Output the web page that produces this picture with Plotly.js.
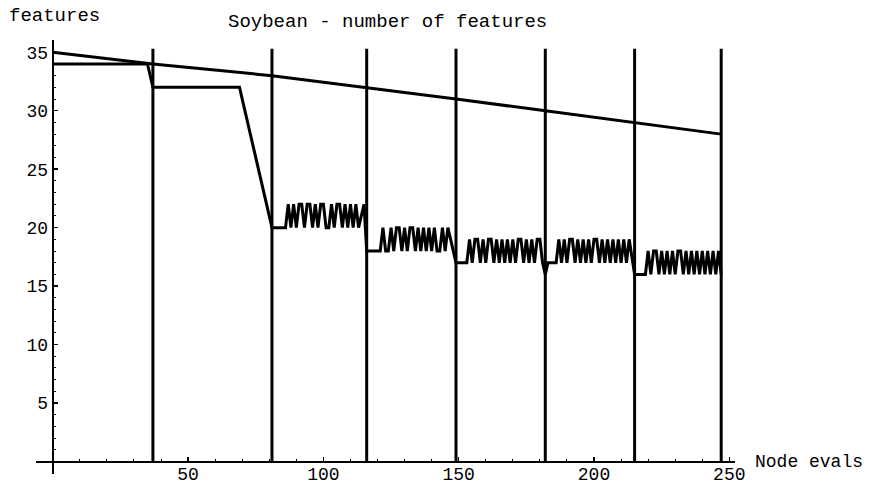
<!DOCTYPE html>
<html>
<head>
<meta charset="utf-8">
<script src="https://cdn.plot.ly/plotly-3.0.1.min.js"></script>
<style>html,body{margin:0;padding:0;background:#fff;}#chart{width:877px;height:488px;}</style>
</head>
<body>
<div id="chart"></div>
<script>
// Node evaluations at which each search level ends (vertical markers)
const levelEvals = [37, 81, 116, 149, 182, 215, 247];
// Features at start and at each level boundary (upper bound line)
const levelStartEval = 0;
const levelStartFeatures = 35;
const levelFeatures = [34, 33, 32, 31, 30, 29, 28];
const markerTop = 35.3;

// Number of features of each evaluated node
const evals = [0, 35, 37, 69, 81,
  82, 83, 84, 85, 86, 87, 88, 89, 90, 91, 92, 93, 94, 95, 96, 97, 98, 99, 100,
  101, 102, 103, 104, 105, 106, 107, 108, 109, 110, 111, 112, 113, 114, 115,
  116, 117, 118, 119, 120, 121, 122, 123, 124, 125, 126, 127, 128, 129, 130,
  131, 132, 133, 134, 135, 136, 137, 138, 139, 140, 141, 142, 143, 144, 145, 146,
  149, 150, 151, 152, 153, 154, 155, 156, 157, 158, 159, 160, 161, 162, 163, 164,
  165, 166, 167, 168, 169, 170, 171, 172, 173, 174, 175, 176, 177, 178, 179, 180, 181,
  182, 183, 184, 185, 186, 187, 188, 189, 190, 191, 192, 193, 194, 195, 196, 197,
  198, 199, 200, 201, 202, 203, 204, 205, 206, 207, 208, 209, 210, 211, 212, 213,
  215, 216, 217, 218, 219, 220, 221, 222, 223, 224, 225, 226, 227, 228, 229, 230,
  231, 232, 233, 234, 235, 236, 237, 238, 239, 240, 241, 242, 243, 244, 245, 246, 247];
const features = [34, 34, 32, 32, 20,
  20, 20, 20, 20, 20, 22, 20, 22, 20, 22, 22, 20, 22, 22, 20, 22, 20, 22, 22,
  20, 20, 22, 20, 22, 22, 20, 22, 20, 22, 20, 22, 20, 21, 22,
  18, 18, 18, 18, 18, 18, 20, 18, 18, 20, 18, 20, 20, 18, 20,
  18, 20, 20, 18, 20, 18, 20, 18, 20, 18, 20, 18, 18, 20, 18, 20,
  17, 17, 17, 17, 17, 19, 17, 19, 19, 17, 19, 17, 19, 19, 17, 19,
  17, 19, 17, 19, 17, 19, 17, 19, 19, 17, 19, 17, 19, 17, 19, 19, 17,
  16, 17, 17, 17, 17, 19, 17, 19, 17, 19, 19, 17, 19, 17, 19, 17,
  19, 17, 19, 19, 17, 19, 17, 19, 17, 19, 17, 19, 17, 19, 17, 19,
  16, 16, 16, 16, 16, 18, 16, 18, 18, 16, 18, 16, 18, 16, 18, 16,
  18, 18, 16, 18, 16, 18, 16, 18, 16, 18, 16, 18, 16, 18, 16, 18, 16];

const xTicks = [50, 100, 150, 200, 250];
const yTicks = [5, 10, 15, 20, 25, 30, 35];

const titleText = 'Soybean - number of features';
const xTitle = 'Node evals';
const yTitle = 'features';

const FONT = 'Liberation Mono, Courier New, monospace';
const line = {color: '#000', width: 3};

// vertical level markers built from levelEvals
const vx = [], vy = [];
levelEvals.forEach(function (e) { vx.push(e, e, null); vy.push(0, markerTop, null); });

const traces = [
  {x: vx, y: vy, mode: 'lines', line: line, hoverinfo: 'skip'},
  {x: [levelStartEval].concat(levelEvals), y: [levelStartFeatures].concat(levelFeatures), mode: 'lines', line: line},
  {x: evals, y: features, mode: 'lines', line: line}
];

// plot area: px 36..735 horizontally, 40..474 vertically
const L = 36, R = 877 - 735, T = 40, B = 488 - 474;
const pw = 877 - L - R, ph = 488 - T - B;
const px = function (p) { return (p - L) / pw; };
const py = function (p) { return (488 - B - p) / ph; };

const xr = [-6.2, 252.1], yr = [-1.07, 36.05];

const layout = {
  width: 877, height: 488,
  margin: {l: L, r: R, t: T, b: B, pad: 0},
  paper_bgcolor: '#fff', plot_bgcolor: '#fff',
  showlegend: false,
  font: {family: FONT, size: 18, color: '#000'},
  xaxis: {
    range: xr, anchor: 'free', position: (0 - yr[0]) / (yr[1] - yr[0]),
    showgrid: false, zeroline: false, showline: true, linecolor: '#000', linewidth: 1.5,
    tickvals: xTicks, ticktext: xTicks.map(String), ticks: 'inside', ticklen: 4, tickwidth: 1.5, tickcolor: '#000',
    ticklabelstandoff: -5,
    minor: {dtick: 10, tick0: 0, ticks: 'inside', ticklen: 2, tickwidth: 1, tickcolor: '#000'},
    tickfont: {family: FONT, size: 18, color: '#000'}
  },
  yaxis: {
    range: yr, anchor: 'free', position: (0 - xr[0]) / (xr[1] - xr[0]),
    showgrid: false, zeroline: false, showline: true, linecolor: '#000', linewidth: 2,
    tickvals: yTicks, ticktext: yTicks.map(String), ticks: 'inside', ticklen: 4, tickwidth: 1.5, tickcolor: '#000',
    minor: {dtick: 1, tick0: 0, ticks: 'inside', ticklen: 2, tickwidth: 1, tickcolor: '#000'},
    tickfont: {family: FONT, size: 18, color: '#000'}
  },
  annotations: [
    {text: titleText, xref: 'paper', yref: 'paper', x: px(387), y: py(22), xanchor: 'center', yanchor: 'middle', showarrow: false, font: {family: FONT, size: 19, color: '#000'}},
    {text: yTitle, xref: 'paper', yref: 'paper', x: px(7), y: py(16), xanchor: 'left', yanchor: 'middle', showarrow: false, font: {family: FONT, size: 19, color: '#000'}},
    {text: xTitle, xref: 'paper', yref: 'paper', x: px(753), y: py(462), xanchor: 'left', yanchor: 'middle', showarrow: false, font: {family: FONT, size: 18, color: '#000'}}
  ]
};

Plotly.newPlot('chart', traces, layout, {displayModeBar: false, staticPlot: true});
</script>
</body>
</html>
